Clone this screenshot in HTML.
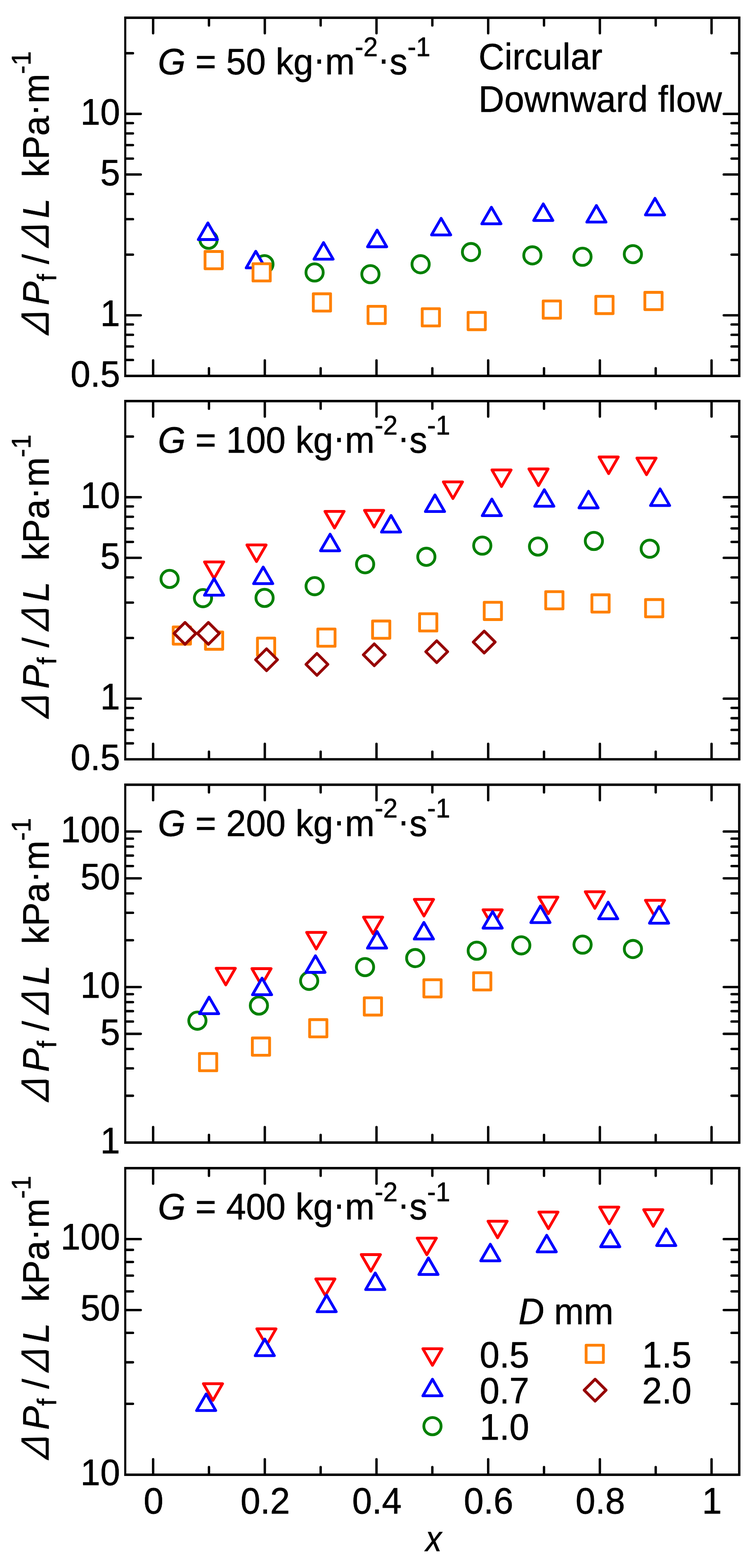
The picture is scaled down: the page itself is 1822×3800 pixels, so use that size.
<!DOCTYPE html>
<html lang="en"><head><meta charset="utf-8"><title>Frictional pressure drop - Circular, Downward flow</title>
<style>html,body{margin:0;padding:0;background:#fff}svg{display:block}text{font-family:"Liberation Sans",sans-serif;fill:#000;stroke:#000;stroke-width:0.8px;stroke-linejoin:round}.i{font-style:italic}.dl{stroke-width:0}</style></head><body>
<svg width="1822" height="3800" viewBox="0 0 1822 3800" font-size="86.3">
<rect width="1822" height="3800" fill="#fff"/>
<g id="panel1">
<circle cx="505.3" cy="581" r="20.9" fill="#fff" stroke="#008000" stroke-width="6.8" stroke-linejoin="round"/>
<circle cx="640.7" cy="640.3" r="20.9" fill="#fff" stroke="#008000" stroke-width="6.8" stroke-linejoin="round"/>
<circle cx="762.2" cy="660.3" r="20.9" fill="#fff" stroke="#008000" stroke-width="6.8" stroke-linejoin="round"/>
<circle cx="897.5" cy="664.5" r="20.9" fill="#fff" stroke="#008000" stroke-width="6.8" stroke-linejoin="round"/>
<circle cx="1019.1" cy="640.4" r="20.9" fill="#fff" stroke="#008000" stroke-width="6.8" stroke-linejoin="round"/>
<circle cx="1141.2" cy="610.9" r="20.9" fill="#fff" stroke="#008000" stroke-width="6.8" stroke-linejoin="round"/>
<circle cx="1289.9" cy="618.9" r="20.9" fill="#fff" stroke="#008000" stroke-width="6.8" stroke-linejoin="round"/>
<circle cx="1411.3" cy="622.3" r="20.9" fill="#fff" stroke="#008000" stroke-width="6.8" stroke-linejoin="round"/>
<circle cx="1533.4" cy="616" r="20.9" fill="#fff" stroke="#008000" stroke-width="6.8" stroke-linejoin="round"/>
<path d="M503.7 540.3L526.9 580.5L480.5 580.5Z" fill="#fff" stroke="#0000ff" stroke-width="6.8" stroke-linejoin="round"/>
<path d="M619.7 609L642.9 649.2L596.5 649.2Z" fill="#fff" stroke="#0000ff" stroke-width="6.8" stroke-linejoin="round"/>
<path d="M783.9 587.9L807.1 628.1L760.7 628.1Z" fill="#fff" stroke="#0000ff" stroke-width="6.8" stroke-linejoin="round"/>
<path d="M913.7 557.8L936.9 598L890.5 598Z" fill="#fff" stroke="#0000ff" stroke-width="6.8" stroke-linejoin="round"/>
<path d="M1068.8 529.1L1092 569.3L1045.6 569.3Z" fill="#fff" stroke="#0000ff" stroke-width="6.8" stroke-linejoin="round"/>
<path d="M1190.6 502.2L1213.8 542.4L1167.4 542.4Z" fill="#fff" stroke="#0000ff" stroke-width="6.8" stroke-linejoin="round"/>
<path d="M1316.3 494.1L1339.5 534.3L1293.1 534.3Z" fill="#fff" stroke="#0000ff" stroke-width="6.8" stroke-linejoin="round"/>
<path d="M1445 498L1468.2 538.2L1421.8 538.2Z" fill="#fff" stroke="#0000ff" stroke-width="6.8" stroke-linejoin="round"/>
<path d="M1587 480.6L1610.2 520.8L1563.8 520.8Z" fill="#fff" stroke="#0000ff" stroke-width="6.8" stroke-linejoin="round"/>
<rect x="496.8" y="609.5" width="41.8" height="41.8" fill="#fff" stroke="#ff8000" stroke-width="6.8" stroke-linejoin="round"/>
<rect x="613" y="639.1" width="41.8" height="41.8" fill="#fff" stroke="#ff8000" stroke-width="6.8" stroke-linejoin="round"/>
<rect x="759.1" y="712" width="41.8" height="41.8" fill="#fff" stroke="#ff8000" stroke-width="6.8" stroke-linejoin="round"/>
<rect x="891.7" y="742.3" width="41.8" height="41.8" fill="#fff" stroke="#ff8000" stroke-width="6.8" stroke-linejoin="round"/>
<rect x="1023" y="748.1" width="41.8" height="41.8" fill="#fff" stroke="#ff8000" stroke-width="6.8" stroke-linejoin="round"/>
<rect x="1134.1" y="757.2" width="41.8" height="41.8" fill="#fff" stroke="#ff8000" stroke-width="6.8" stroke-linejoin="round"/>
<rect x="1316.1" y="729.4" width="41.8" height="41.8" fill="#fff" stroke="#ff8000" stroke-width="6.8" stroke-linejoin="round"/>
<rect x="1443.6" y="718.2" width="41.8" height="41.8" fill="#fff" stroke="#ff8000" stroke-width="6.8" stroke-linejoin="round"/>
<rect x="1562.4" y="708.5" width="41.8" height="41.8" fill="#fff" stroke="#ff8000" stroke-width="6.8" stroke-linejoin="round"/>
<path d="M371 44.1v36.5M371 910v-36.5M506.3 44.1v17.6M506.3 910v-17.6M641.6 44.1v36.5M641.6 910v-36.5M776.9 44.1v17.6M776.9 910v-17.6M912.2 44.1v36.5M912.2 910v-36.5M1047.5 44.1v17.6M1047.5 910v-17.6M1182.8 44.1v36.5M1182.8 910v-36.5M1318.1 44.1v17.6M1318.1 910v-17.6M1453.4 44.1v36.5M1453.4 910v-36.5M1588.7 44.1v17.6M1588.7 910v-17.6M1724 44.1v36.5M1724 910v-36.5M304.5 872.4h17.6M1790.1 872.4h-17.6M304.5 839.7h17.6M1790.1 839.7h-17.6M304.5 811.4h17.6M1790.1 811.4h-17.6M304.5 786.4h17.6M1790.1 786.4h-17.6M304.5 764.1h36.5M1790.1 764.1h-36.5M304.5 617.1h17.6M1790.1 617.1h-17.6M304.5 531.2h17.6M1790.1 531.2h-17.6M304.5 470.2h17.6M1790.1 470.2h-17.6M304.5 422.9h36.5M1790.1 422.9h-36.5M304.5 384.3h17.6M1790.1 384.3h-17.6M304.5 351.6h17.6M1790.1 351.6h-17.6M304.5 323.3h17.6M1790.1 323.3h-17.6M304.5 298.3h17.6M1790.1 298.3h-17.6M304.5 276h36.5M1790.1 276h-36.5M304.5 129h17.6M1790.1 129h-17.6" fill="none" stroke="#000" stroke-width="5.8" stroke-linecap="round"/>
<path d="M300.9 40.1H1794V913.9H300.9ZM306 46.1V908.1H1788.2V46.1Z" fill="#000" fill-rule="evenodd"/>
<text transform="translate(291 302.2) scale(1 1.035)" text-anchor="end">10</text>
<text transform="translate(291 449.1) scale(1 1.035)" text-anchor="end">5</text>
<text transform="translate(291 790.3) scale(1 1.035)" text-anchor="end">1</text>
<text transform="translate(291 937.2) scale(1 1.035)" text-anchor="end">0.5</text>
<text transform="translate(382.5 180) scale(1 1.03)"><tspan class="i">G</tspan> = 50 kg<tspan dy="-6.5">·</tspan><tspan dy="6.5">m</tspan><tspan font-size="62.5" dy="-43">-2</tspan><tspan dy="36.5">·</tspan><tspan dy="6.5">s</tspan><tspan font-size="62.5" dy="-43">-1</tspan></text>
<g transform="translate(117.8 814) rotate(-90)"><text class="dl" transform="translate(-2.3 0) skewX(-19) scale(0.91 1)" font-size="96">Δ</text><text transform="translate(74.2 0) scale(1 1.035)" class="i">P</text><text transform="translate(132.5 18.2) scale(1 1.03)" font-size="62.5">f</text><text transform="translate(174 0) scale(1 1.035)">/</text><text class="dl" transform="translate(209.4 0) skewX(-19) scale(0.91 1)" font-size="96">Δ</text><text transform="translate(285.3 0) scale(1 1.035)" class="i">L</text><text transform="translate(384.3 0) scale(1 1.03)">kPa<tspan dy="-6.5">·</tspan><tspan dx="1.5" dy="6.5">m</tspan></text><text transform="translate(634.5 -44) scale(1 1.035)" font-size="62.5">-1</text></g>
</g>
<g id="panel2">
<path d="M518.7 1402L541.9 1361.8L495.5 1361.8Z" fill="#fff" stroke="#ff0000" stroke-width="6.8" stroke-linejoin="round"/>
<path d="M621.5 1360.9L644.7 1320.7L598.3 1320.7Z" fill="#fff" stroke="#ff0000" stroke-width="6.8" stroke-linejoin="round"/>
<path d="M810.5 1279.5L833.7 1239.3L787.3 1239.3Z" fill="#fff" stroke="#ff0000" stroke-width="6.8" stroke-linejoin="round"/>
<path d="M906.4 1277.2L929.6 1237L883.2 1237Z" fill="#fff" stroke="#ff0000" stroke-width="6.8" stroke-linejoin="round"/>
<path d="M1097.4 1208.1L1120.6 1167.9L1074.2 1167.9Z" fill="#fff" stroke="#ff0000" stroke-width="6.8" stroke-linejoin="round"/>
<path d="M1215.1 1179.1L1238.3 1138.9L1191.9 1138.9Z" fill="#fff" stroke="#ff0000" stroke-width="6.8" stroke-linejoin="round"/>
<path d="M1304.7 1176.7L1327.9 1136.5L1281.5 1136.5Z" fill="#fff" stroke="#ff0000" stroke-width="6.8" stroke-linejoin="round"/>
<path d="M1474.7 1147.7L1497.9 1107.5L1451.5 1107.5Z" fill="#fff" stroke="#ff0000" stroke-width="6.8" stroke-linejoin="round"/>
<path d="M1566.4 1150.4L1589.6 1110.2L1543.2 1110.2Z" fill="#fff" stroke="#ff0000" stroke-width="6.8" stroke-linejoin="round"/>
<circle cx="410.9" cy="1403" r="20.9" fill="#fff" stroke="#008000" stroke-width="6.8" stroke-linejoin="round"/>
<circle cx="491.8" cy="1449.6" r="20.9" fill="#fff" stroke="#008000" stroke-width="6.8" stroke-linejoin="round"/>
<circle cx="641" cy="1449" r="20.9" fill="#fff" stroke="#008000" stroke-width="6.8" stroke-linejoin="round"/>
<circle cx="762.3" cy="1420.6" r="20.9" fill="#fff" stroke="#008000" stroke-width="6.8" stroke-linejoin="round"/>
<circle cx="884.6" cy="1367.4" r="20.9" fill="#fff" stroke="#008000" stroke-width="6.8" stroke-linejoin="round"/>
<circle cx="1033" cy="1349.4" r="20.9" fill="#fff" stroke="#008000" stroke-width="6.8" stroke-linejoin="round"/>
<circle cx="1168.5" cy="1322.3" r="20.9" fill="#fff" stroke="#008000" stroke-width="6.8" stroke-linejoin="round"/>
<circle cx="1303.6" cy="1324.5" r="20.9" fill="#fff" stroke="#008000" stroke-width="6.8" stroke-linejoin="round"/>
<circle cx="1438.9" cy="1311" r="20.9" fill="#fff" stroke="#008000" stroke-width="6.8" stroke-linejoin="round"/>
<circle cx="1574.2" cy="1329.8" r="20.9" fill="#fff" stroke="#008000" stroke-width="6.8" stroke-linejoin="round"/>
<path d="M518.7 1402.2L541.9 1442.4L495.5 1442.4Z" fill="#fff" stroke="#0000ff" stroke-width="6.8" stroke-linejoin="round"/>
<path d="M637.7 1374.2L660.9 1414.4L614.5 1414.4Z" fill="#fff" stroke="#0000ff" stroke-width="6.8" stroke-linejoin="round"/>
<path d="M799.8 1294.6L823 1334.8L776.6 1334.8Z" fill="#fff" stroke="#0000ff" stroke-width="6.8" stroke-linejoin="round"/>
<path d="M947.5 1249.2L970.7 1289.4L924.3 1289.4Z" fill="#fff" stroke="#0000ff" stroke-width="6.8" stroke-linejoin="round"/>
<path d="M1053.9 1199.5L1077.1 1239.7L1030.7 1239.7Z" fill="#fff" stroke="#0000ff" stroke-width="6.8" stroke-linejoin="round"/>
<path d="M1191.7 1209.5L1214.9 1249.7L1168.5 1249.7Z" fill="#fff" stroke="#0000ff" stroke-width="6.8" stroke-linejoin="round"/>
<path d="M1318.8 1186.7L1342 1226.9L1295.6 1226.9Z" fill="#fff" stroke="#0000ff" stroke-width="6.8" stroke-linejoin="round"/>
<path d="M1426 1190.6L1449.2 1230.8L1402.8 1230.8Z" fill="#fff" stroke="#0000ff" stroke-width="6.8" stroke-linejoin="round"/>
<path d="M1599.3 1184.9L1622.5 1225.1L1576.1 1225.1Z" fill="#fff" stroke="#0000ff" stroke-width="6.8" stroke-linejoin="round"/>
<rect x="419.7" y="1519.3" width="41.8" height="41.8" fill="#fff" stroke="#ff8000" stroke-width="6.8" stroke-linejoin="round"/>
<rect x="497.8" y="1531.7" width="41.8" height="41.8" fill="#fff" stroke="#ff8000" stroke-width="6.8" stroke-linejoin="round"/>
<rect x="623.8" y="1546.3" width="41.8" height="41.8" fill="#fff" stroke="#ff8000" stroke-width="6.8" stroke-linejoin="round"/>
<rect x="770" y="1524.4" width="41.8" height="41.8" fill="#fff" stroke="#ff8000" stroke-width="6.8" stroke-linejoin="round"/>
<rect x="902.7" y="1505" width="41.8" height="41.8" fill="#fff" stroke="#ff8000" stroke-width="6.8" stroke-linejoin="round"/>
<rect x="1016.6" y="1487.4" width="41.8" height="41.8" fill="#fff" stroke="#ff8000" stroke-width="6.8" stroke-linejoin="round"/>
<rect x="1173.2" y="1459.7" width="41.8" height="41.8" fill="#fff" stroke="#ff8000" stroke-width="6.8" stroke-linejoin="round"/>
<rect x="1322.2" y="1433.8" width="41.8" height="41.8" fill="#fff" stroke="#ff8000" stroke-width="6.8" stroke-linejoin="round"/>
<rect x="1434.1" y="1441.5" width="41.8" height="41.8" fill="#fff" stroke="#ff8000" stroke-width="6.8" stroke-linejoin="round"/>
<rect x="1564.1" y="1453" width="41.8" height="41.8" fill="#fff" stroke="#ff8000" stroke-width="6.8" stroke-linejoin="round"/>
<path d="M448.3 1508.5l26.5 26.5l-26.5 26.5l-26.5 -26.5Z" fill="#fff" stroke="#960000" stroke-width="6.8" stroke-linejoin="round"/>
<path d="M504.9 1508.5l26.5 26.5l-26.5 26.5l-26.5 -26.5Z" fill="#fff" stroke="#960000" stroke-width="6.8" stroke-linejoin="round"/>
<path d="M645.8 1572.3l26.5 26.5l-26.5 26.5l-26.5 -26.5Z" fill="#fff" stroke="#960000" stroke-width="6.8" stroke-linejoin="round"/>
<path d="M767.9 1583.6l26.5 26.5l-26.5 26.5l-26.5 -26.5Z" fill="#fff" stroke="#960000" stroke-width="6.8" stroke-linejoin="round"/>
<path d="M906.8 1560.3l26.5 26.5l-26.5 26.5l-26.5 -26.5Z" fill="#fff" stroke="#960000" stroke-width="6.8" stroke-linejoin="round"/>
<path d="M1058.1 1552.9l26.5 26.5l-26.5 26.5l-26.5 -26.5Z" fill="#fff" stroke="#960000" stroke-width="6.8" stroke-linejoin="round"/>
<path d="M1173.2 1529.5l26.5 26.5l-26.5 26.5l-26.5 -26.5Z" fill="#fff" stroke="#960000" stroke-width="6.8" stroke-linejoin="round"/>
<path d="M371 973v36.5M371 1839.2v-36.5M506.3 973v17.6M506.3 1839.2v-17.6M641.6 973v36.5M641.6 1839.2v-36.5M776.9 973v17.6M776.9 1839.2v-17.6M912.2 973v36.5M912.2 1839.2v-36.5M1047.5 973v17.6M1047.5 1839.2v-17.6M1182.8 973v36.5M1182.8 1839.2v-36.5M1318.1 973v17.6M1318.1 1839.2v-17.6M1453.4 973v36.5M1453.4 1839.2v-36.5M1588.7 973v17.6M1588.7 1839.2v-17.6M1724 973v36.5M1724 1839.2v-36.5M304.5 1801.5h17.6M1790.1 1801.5h-17.6M304.5 1768.9h17.6M1790.1 1768.9h-17.6M304.5 1740.5h17.6M1790.1 1740.5h-17.6M304.5 1715.6h17.6M1790.1 1715.6h-17.6M304.5 1693.2h36.5M1790.1 1693.2h-36.5M304.5 1546.2h17.6M1790.1 1546.2h-17.6M304.5 1460.3h17.6M1790.1 1460.3h-17.6M304.5 1399.3h17.6M1790.1 1399.3h-17.6M304.5 1351.9h36.5M1790.1 1351.9h-36.5M304.5 1313.3h17.6M1790.1 1313.3h-17.6M304.5 1280.6h17.6M1790.1 1280.6h-17.6M304.5 1252.3h17.6M1790.1 1252.3h-17.6M304.5 1227.3h17.6M1790.1 1227.3h-17.6M304.5 1205h36.5M1790.1 1205h-36.5M304.5 1058h17.6M1790.1 1058h-17.6" fill="none" stroke="#000" stroke-width="5.8" stroke-linecap="round"/>
<path d="M300.9 969H1794V1843.1H300.9ZM306 975V1837.3H1788.2V975Z" fill="#000" fill-rule="evenodd"/>
<text transform="translate(291 1231.2) scale(1 1.035)" text-anchor="end">10</text>
<text transform="translate(291 1378.1) scale(1 1.035)" text-anchor="end">5</text>
<text transform="translate(291 1719.4) scale(1 1.035)" text-anchor="end">1</text>
<text transform="translate(291 1866.4) scale(1 1.035)" text-anchor="end">0.5</text>
<text transform="translate(382.5 1097) scale(1 1.03)"><tspan class="i">G</tspan> = 100 kg<tspan dy="-6.5">·</tspan><tspan dy="6.5">m</tspan><tspan font-size="62.5" dy="-43">-2</tspan><tspan dy="36.5">·</tspan><tspan dy="6.5">s</tspan><tspan font-size="62.5" dy="-43">-1</tspan></text>
<g transform="translate(117.8 1743.1) rotate(-90)"><text class="dl" transform="translate(-2.3 0) skewX(-19) scale(0.91 1)" font-size="96">Δ</text><text transform="translate(74.2 0) scale(1 1.035)" class="i">P</text><text transform="translate(132.5 18.2) scale(1 1.03)" font-size="62.5">f</text><text transform="translate(174 0) scale(1 1.035)">/</text><text class="dl" transform="translate(209.4 0) skewX(-19) scale(0.91 1)" font-size="96">Δ</text><text transform="translate(285.3 0) scale(1 1.035)" class="i">L</text><text transform="translate(384.3 0) scale(1 1.03)">kPa<tspan dy="-6.5">·</tspan><tspan dx="1.5" dy="6.5">m</tspan></text><text transform="translate(634.5 -44) scale(1 1.035)" font-size="62.5">-1</text></g>
</g>
<g id="panel3">
<path d="M547 2386.9L570.2 2346.7L523.8 2346.7Z" fill="#fff" stroke="#ff0000" stroke-width="6.8" stroke-linejoin="round"/>
<path d="M633.6 2387.7L656.8 2347.5L610.4 2347.5Z" fill="#fff" stroke="#ff0000" stroke-width="6.8" stroke-linejoin="round"/>
<path d="M766.2 2299.9L789.4 2259.7L743 2259.7Z" fill="#fff" stroke="#ff0000" stroke-width="6.8" stroke-linejoin="round"/>
<path d="M904 2262.9L927.2 2222.7L880.8 2222.7Z" fill="#fff" stroke="#ff0000" stroke-width="6.8" stroke-linejoin="round"/>
<path d="M1027.2 2219.9L1050.4 2179.7L1004 2179.7Z" fill="#fff" stroke="#ff0000" stroke-width="6.8" stroke-linejoin="round"/>
<path d="M1193.6 2245.1L1216.8 2204.9L1170.4 2204.9Z" fill="#fff" stroke="#ff0000" stroke-width="6.8" stroke-linejoin="round"/>
<path d="M1328.5 2214.4L1351.7 2174.2L1305.3 2174.2Z" fill="#fff" stroke="#ff0000" stroke-width="6.8" stroke-linejoin="round"/>
<path d="M1441.2 2201.3L1464.4 2161.1L1418 2161.1Z" fill="#fff" stroke="#ff0000" stroke-width="6.8" stroke-linejoin="round"/>
<path d="M1587 2222.1L1610.2 2181.9L1563.8 2181.9Z" fill="#fff" stroke="#ff0000" stroke-width="6.8" stroke-linejoin="round"/>
<circle cx="478.3" cy="2473.6" r="20.9" fill="#fff" stroke="#008000" stroke-width="6.8" stroke-linejoin="round"/>
<circle cx="627.3" cy="2437" r="20.9" fill="#fff" stroke="#008000" stroke-width="6.8" stroke-linejoin="round"/>
<circle cx="749.1" cy="2377.1" r="20.9" fill="#fff" stroke="#008000" stroke-width="6.8" stroke-linejoin="round"/>
<circle cx="884.4" cy="2343.7" r="20.9" fill="#fff" stroke="#008000" stroke-width="6.8" stroke-linejoin="round"/>
<circle cx="1006" cy="2321.9" r="20.9" fill="#fff" stroke="#008000" stroke-width="6.8" stroke-linejoin="round"/>
<circle cx="1155.1" cy="2304" r="20.9" fill="#fff" stroke="#008000" stroke-width="6.8" stroke-linejoin="round"/>
<circle cx="1263" cy="2291.1" r="20.9" fill="#fff" stroke="#008000" stroke-width="6.8" stroke-linejoin="round"/>
<circle cx="1411.5" cy="2289.3" r="20.9" fill="#fff" stroke="#008000" stroke-width="6.8" stroke-linejoin="round"/>
<circle cx="1533.5" cy="2299.9" r="20.9" fill="#fff" stroke="#008000" stroke-width="6.8" stroke-linejoin="round"/>
<path d="M506.6 2416.5L529.8 2456.7L483.4 2456.7Z" fill="#fff" stroke="#0000ff" stroke-width="6.8" stroke-linejoin="round"/>
<path d="M634.9 2370.5L658.1 2410.7L611.7 2410.7Z" fill="#fff" stroke="#0000ff" stroke-width="6.8" stroke-linejoin="round"/>
<path d="M764.3 2316.3L787.5 2356.5L741.1 2356.5Z" fill="#fff" stroke="#0000ff" stroke-width="6.8" stroke-linejoin="round"/>
<path d="M913.5 2257.5L936.7 2297.7L890.3 2297.7Z" fill="#fff" stroke="#0000ff" stroke-width="6.8" stroke-linejoin="round"/>
<path d="M1027 2235.5L1050.2 2275.7L1003.8 2275.7Z" fill="#fff" stroke="#0000ff" stroke-width="6.8" stroke-linejoin="round"/>
<path d="M1193.6 2209.1L1216.8 2249.3L1170.4 2249.3Z" fill="#fff" stroke="#0000ff" stroke-width="6.8" stroke-linejoin="round"/>
<path d="M1309.4 2195.6L1332.6 2235.8L1286.2 2235.8Z" fill="#fff" stroke="#0000ff" stroke-width="6.8" stroke-linejoin="round"/>
<path d="M1473.6 2186.4L1496.8 2226.6L1450.4 2226.6Z" fill="#fff" stroke="#0000ff" stroke-width="6.8" stroke-linejoin="round"/>
<path d="M1596.8 2197.1L1620 2237.3L1573.6 2237.3Z" fill="#fff" stroke="#0000ff" stroke-width="6.8" stroke-linejoin="round"/>
<rect x="483.3" y="2553.1" width="41.8" height="41.8" fill="#fff" stroke="#ff8000" stroke-width="6.8" stroke-linejoin="round"/>
<rect x="611.4" y="2515.5" width="41.8" height="41.8" fill="#fff" stroke="#ff8000" stroke-width="6.8" stroke-linejoin="round"/>
<rect x="750.2" y="2471" width="41.8" height="41.8" fill="#fff" stroke="#ff8000" stroke-width="6.8" stroke-linejoin="round"/>
<rect x="882.6" y="2418.2" width="41.8" height="41.8" fill="#fff" stroke="#ff8000" stroke-width="6.8" stroke-linejoin="round"/>
<rect x="1027" y="2374.3" width="41.8" height="41.8" fill="#fff" stroke="#ff8000" stroke-width="6.8" stroke-linejoin="round"/>
<rect x="1147.5" y="2357.3" width="41.8" height="41.8" fill="#fff" stroke="#ff8000" stroke-width="6.8" stroke-linejoin="round"/>
<path d="M371 1902.7v36.5M371 2768v-36.5M506.3 1902.7v17.6M506.3 2768v-17.6M641.6 1902.7v36.5M641.6 2768v-36.5M776.9 1902.7v17.6M776.9 2768v-17.6M912.2 1902.7v36.5M912.2 2768v-36.5M1047.5 1902.7v17.6M1047.5 2768v-17.6M1182.8 1902.7v36.5M1182.8 2768v-36.5M1318.1 1902.7v17.6M1318.1 2768v-17.6M1453.4 1902.7v36.5M1453.4 2768v-36.5M1588.7 1902.7v17.6M1588.7 2768v-17.6M1724 1902.7v36.5M1724 2768v-36.5M304.5 2655.5h17.6M1790.1 2655.5h-17.6M304.5 2589.2h17.6M1790.1 2589.2h-17.6M304.5 2542.1h17.6M1790.1 2542.1h-17.6M304.5 2505.5h36.5M1790.1 2505.5h-36.5M304.5 2475.7h17.6M1790.1 2475.7h-17.6M304.5 2450.5h17.6M1790.1 2450.5h-17.6M304.5 2428.6h17.6M1790.1 2428.6h-17.6M304.5 2409.3h17.6M1790.1 2409.3h-17.6M304.5 2392.1h36.5M1790.1 2392.1h-36.5M304.5 2278.6h17.6M1790.1 2278.6h-17.6M304.5 2212.2h17.6M1790.1 2212.2h-17.6M304.5 2165.2h17.6M1790.1 2165.2h-17.6M304.5 2128.6h36.5M1790.1 2128.6h-36.5M304.5 2098.8h17.6M1790.1 2098.8h-17.6M304.5 2073.5h17.6M1790.1 2073.5h-17.6M304.5 2051.7h17.6M1790.1 2051.7h-17.6M304.5 2032.4h17.6M1790.1 2032.4h-17.6M304.5 2015.2h36.5M1790.1 2015.2h-36.5" fill="none" stroke="#000" stroke-width="5.8" stroke-linecap="round"/>
<path d="M300.9 1898.8H1794V2771.9H300.9ZM306 1904.7V2766.1H1788.2V1904.7Z" fill="#000" fill-rule="evenodd"/>
<text transform="translate(291 2041.4) scale(1 1.035)" text-anchor="end">100</text>
<text transform="translate(291 2154.8) scale(1 1.035)" text-anchor="end">50</text>
<text transform="translate(291 2418.3) scale(1 1.035)" text-anchor="end">10</text>
<text transform="translate(291 2531.7) scale(1 1.035)" text-anchor="end">5</text>
<text transform="translate(291 2795.2) scale(1 1.035)" text-anchor="end">1</text>
<text transform="translate(382.5 2025.5) scale(1 1.03)"><tspan class="i">G</tspan> = 200 kg<tspan dy="-6.5">·</tspan><tspan dy="6.5">m</tspan><tspan font-size="62.5" dy="-43">-2</tspan><tspan dy="36.5">·</tspan><tspan dy="6.5">s</tspan><tspan font-size="62.5" dy="-43">-1</tspan></text>
<g transform="translate(117.8 2672.3) rotate(-90)"><text class="dl" transform="translate(-2.3 0) skewX(-19) scale(0.91 1)" font-size="96">Δ</text><text transform="translate(74.2 0) scale(1 1.035)" class="i">P</text><text transform="translate(132.5 18.2) scale(1 1.03)" font-size="62.5">f</text><text transform="translate(174 0) scale(1 1.035)">/</text><text class="dl" transform="translate(209.4 0) skewX(-19) scale(0.91 1)" font-size="96">Δ</text><text transform="translate(285.3 0) scale(1 1.035)" class="i">L</text><text transform="translate(384.3 0) scale(1 1.03)">kPa<tspan dy="-6.5">·</tspan><tspan dx="1.5" dy="6.5">m</tspan></text><text transform="translate(634.5 -44) scale(1 1.035)" font-size="62.5">-1</text></g>
</g>
<g id="panel4">
<path d="M516 3393.6L539.2 3353.4L492.8 3353.4Z" fill="#fff" stroke="#ff0000" stroke-width="6.8" stroke-linejoin="round"/>
<path d="M645.5 3260.6L668.7 3220.4L622.3 3220.4Z" fill="#fff" stroke="#ff0000" stroke-width="6.8" stroke-linejoin="round"/>
<path d="M788.3 3139.7L811.5 3099.5L765.1 3099.5Z" fill="#fff" stroke="#ff0000" stroke-width="6.8" stroke-linejoin="round"/>
<path d="M898.5 3080.7L921.7 3040.5L875.3 3040.5Z" fill="#fff" stroke="#ff0000" stroke-width="6.8" stroke-linejoin="round"/>
<path d="M1034.1 3040.8L1057.3 3000.6L1010.9 3000.6Z" fill="#fff" stroke="#ff0000" stroke-width="6.8" stroke-linejoin="round"/>
<path d="M1205.6 2999.8L1228.8 2959.6L1182.4 2959.6Z" fill="#fff" stroke="#ff0000" stroke-width="6.8" stroke-linejoin="round"/>
<path d="M1328.7 2977.6L1351.9 2937.4L1305.5 2937.4Z" fill="#fff" stroke="#ff0000" stroke-width="6.8" stroke-linejoin="round"/>
<path d="M1476.1 2965.6L1499.3 2925.4L1452.9 2925.4Z" fill="#fff" stroke="#ff0000" stroke-width="6.8" stroke-linejoin="round"/>
<path d="M1582.8 2971.9L1606 2931.7L1559.6 2931.7Z" fill="#fff" stroke="#ff0000" stroke-width="6.8" stroke-linejoin="round"/>
<path d="M499.5 3378.2L522.7 3418.4L476.3 3418.4Z" fill="#fff" stroke="#0000ff" stroke-width="6.8" stroke-linejoin="round"/>
<path d="M641.5 3245.2L664.7 3285.4L618.3 3285.4Z" fill="#fff" stroke="#0000ff" stroke-width="6.8" stroke-linejoin="round"/>
<path d="M791.4 3138.7L814.6 3178.9L768.2 3178.9Z" fill="#fff" stroke="#0000ff" stroke-width="6.8" stroke-linejoin="round"/>
<path d="M909.2 3085L932.4 3125.2L886 3125.2Z" fill="#fff" stroke="#0000ff" stroke-width="6.8" stroke-linejoin="round"/>
<path d="M1038.1 3048.5L1061.3 3088.7L1014.9 3088.7Z" fill="#fff" stroke="#0000ff" stroke-width="6.8" stroke-linejoin="round"/>
<path d="M1188 3015.4L1211.2 3055.6L1164.8 3055.6Z" fill="#fff" stroke="#0000ff" stroke-width="6.8" stroke-linejoin="round"/>
<path d="M1324.6 2993.6L1347.8 3033.8L1301.4 3033.8Z" fill="#fff" stroke="#0000ff" stroke-width="6.8" stroke-linejoin="round"/>
<path d="M1478.5 2981.3L1501.7 3021.5L1455.3 3021.5Z" fill="#fff" stroke="#0000ff" stroke-width="6.8" stroke-linejoin="round"/>
<path d="M1614.2 2978.4L1637.4 3018.6L1591 3018.6Z" fill="#fff" stroke="#0000ff" stroke-width="6.8" stroke-linejoin="round"/>
<path d="M371 2832v36.5M371 3573v-36.5M506.3 2832v17.6M506.3 3573v-17.6M641.6 2832v36.5M641.6 3573v-36.5M776.9 2832v17.6M776.9 3573v-17.6M912.2 2832v36.5M912.2 3573v-36.5M1047.5 2832v17.6M1047.5 3573v-17.6M1182.8 2832v36.5M1182.8 3573v-36.5M1318.1 2832v17.6M1318.1 3573v-17.6M1453.4 2832v36.5M1453.4 3573v-36.5M1588.7 2832v17.6M1588.7 3573v-17.6M1724 2832v36.5M1724 3573v-36.5M304.5 3402.1h17.6M1790.1 3402.1h-17.6M304.5 3301.5h17.6M1790.1 3301.5h-17.6M304.5 3230.2h17.6M1790.1 3230.2h-17.6M304.5 3174.8h36.5M1790.1 3174.8h-36.5M304.5 3129.6h17.6M1790.1 3129.6h-17.6M304.5 3091.4h17.6M1790.1 3091.4h-17.6M304.5 3058.3h17.6M1790.1 3058.3h-17.6M304.5 3029h17.6M1790.1 3029h-17.6M304.5 3002.9h36.5M1790.1 3002.9h-36.5" fill="none" stroke="#000" stroke-width="5.8" stroke-linecap="round"/>
<path d="M300.9 2828.1H1794V3576.9H300.9ZM306 2833.9V3571.1H1788.2V2833.9Z" fill="#000" fill-rule="evenodd"/>
<text transform="translate(291 3028.1) scale(1 1.035)" text-anchor="end">100</text>
<text transform="translate(291 3200) scale(1 1.035)" text-anchor="end">50</text>
<text transform="translate(291 3599.2) scale(1 1.035)" text-anchor="end">10</text>
<text transform="translate(382.5 2955) scale(1 1.03)"><tspan class="i">G</tspan> = 400 kg<tspan dy="-6.5">·</tspan><tspan dy="6.5">m</tspan><tspan font-size="62.5" dy="-43">-2</tspan><tspan dy="36.5">·</tspan><tspan dy="6.5">s</tspan><tspan font-size="62.5" dy="-43">-1</tspan></text>
<g transform="translate(117.8 3539.5) rotate(-90)"><text class="dl" transform="translate(-2.3 0) skewX(-19) scale(0.91 1)" font-size="96">Δ</text><text transform="translate(74.2 0) scale(1 1.035)" class="i">P</text><text transform="translate(132.5 18.2) scale(1 1.03)" font-size="62.5">f</text><text transform="translate(174 0) scale(1 1.035)">/</text><text class="dl" transform="translate(209.4 0) skewX(-19) scale(0.91 1)" font-size="96">Δ</text><text transform="translate(285.3 0) scale(1 1.035)" class="i">L</text><text transform="translate(384.3 0) scale(1 1.03)">kPa<tspan dy="-6.5">·</tspan><tspan dx="1.5" dy="6.5">m</tspan></text><text transform="translate(634.5 -44) scale(1 1.035)" font-size="62.5">-1</text></g>
</g>
<text transform="translate(1159.5 167.5) scale(1 1.03)" letter-spacing="0.4">Circular</text>
<text transform="translate(1159.2 271.3) scale(1 1.03)" letter-spacing="0.4">Downward flow</text>
<text transform="translate(372 3668.3) scale(1 1.035)" text-anchor="middle">0</text>
<text transform="translate(642.6 3668.3) scale(1 1.035)" text-anchor="middle">0.2</text>
<text transform="translate(913.2 3668.3) scale(1 1.035)" text-anchor="middle">0.4</text>
<text transform="translate(1183.8 3668.3) scale(1 1.035)" text-anchor="middle">0.6</text>
<text transform="translate(1454.4 3668.3) scale(1 1.035)" text-anchor="middle">0.8</text>
<text transform="translate(1725 3668.3) scale(1 1.035)" text-anchor="middle">1</text>
<text transform="translate(1050.6 3759) scale(0.9 1)" text-anchor="middle" class="i">x</text>
<g id="legend">
<text transform="translate(1256.3 3209) scale(1 1.03)"><tspan class="i">D</tspan> mm</text>
<path d="M1047.8 3308.8L1071 3268.6L1024.6 3268.6Z" fill="#fff" stroke="#ff0000" stroke-width="6.8" stroke-linejoin="round"/>
<text transform="translate(1282.3 3314.3) scale(1 1.035)" text-anchor="end">0.5</text>
<path d="M1047.8 3342.5L1071 3382.7L1024.6 3382.7Z" fill="#fff" stroke="#0000ff" stroke-width="6.8" stroke-linejoin="round"/>
<text transform="translate(1282.3 3401.3) scale(1 1.035)" text-anchor="end">0.7</text>
<circle cx="1047.8" cy="3456.2" r="20.9" fill="#fff" stroke="#008000" stroke-width="6.8" stroke-linejoin="round"/>
<text transform="translate(1282.3 3489.2) scale(1 1.035)" text-anchor="end">1.0</text>
<rect x="1420.1" y="3260.1" width="41.8" height="41.8" fill="#fff" stroke="#ff8000" stroke-width="6.8" stroke-linejoin="round"/>
<text transform="translate(1675.6 3314.3) scale(1 1.035)" text-anchor="end">1.5</text>
<path d="M1441.9 3342.5l26.5 26.5l-26.5 26.5l-26.5 -26.5Z" fill="#fff" stroke="#960000" stroke-width="6.8" stroke-linejoin="round"/>
<text transform="translate(1675.6 3401.3) scale(1 1.035)" text-anchor="end">2.0</text>
</g>
</svg></body></html>
